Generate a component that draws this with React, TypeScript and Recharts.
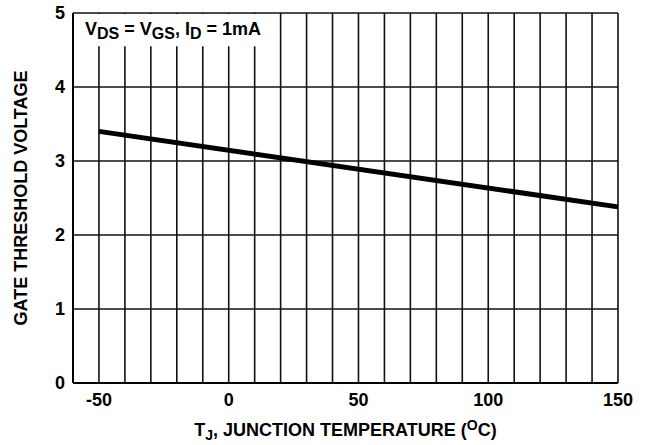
import React from "react";
import {
  LineChart,
  Line,
  XAxis,
  YAxis,
  CartesianGrid,
  ReferenceArea,
  Label,
} from "recharts";

const tempTicks = [-60, -50, -40, -30, -20, -10, 0, 10, 20, 30, 40, 50, 60, 70, 80, 90, 100, 110, 120, 130, 140, 150];
const voltTicks = [0, 1, 2, 3, 4, 5];
const labelledTemps = [-50, 0, 50, 100, 150];

const temperature = [-50, 150];
const thresholdVoltage = [3.4, 2.38];

const data = temperature.map((t, i) => ({ t, v: thresholdVoltage[i] }));

const font = "'Liberation Sans', Arial, sans-serif";

const NoteLabel = (props: any) => {
  const { viewBox } = props;
  const x = viewBox.x + 11;
  const y = viewBox.y + 21;
  return (
    <text x={x} y={y} fontFamily={font} fontWeight="bold" fontSize={18} fill="#000">
      V<tspan fontSize={16} dy={4}>DS</tspan>
      <tspan dy={-4}> = V</tspan>
      <tspan fontSize={16} dy={4}>GS</tspan>
      <tspan dy={-4}>, I</tspan>
      <tspan fontSize={16} dy={4}>D</tspan>
      <tspan dy={-4}> = 1mA</tspan>
    </text>
  );
};

const XTitle = (props: any) => {
  const { viewBox } = props;
  const cx = viewBox.x + viewBox.width / 2;
  return (
    <text x={cx} y={viewBox.y + 53} textAnchor="middle" fontFamily={font} fontWeight="bold" fontSize={18} fill="#000">
      T<tspan fontSize={14} dy={4}>J</tspan>
      <tspan dy={-4}>, JUNCTION TEMPERATURE (</tspan>
      <tspan fontSize={14} dy={-6}>O</tspan>
      <tspan dy={6}>C)</tspan>
    </text>
  );
};

const YTitle = (props: any) => {
  const { viewBox } = props;
  const cy = viewBox.y + viewBox.height / 2;
  const x = 27;
  return (
    <text
      x={x}
      y={cy}
      transform={`rotate(-90, ${x}, ${cy})`}
      textAnchor="middle"
      fontFamily={font}
      fontWeight="bold"
      fontSize={18}
      fill="#000"
    >
      GATE THRESHOLD VOLTAGE
    </text>
  );
};

const tickStyle = { fill: "#000", fontFamily: font, fontWeight: "bold", fontSize: 18 };

export default function App() {
  return (
    <div style={{ position: "absolute", left: 0, top: 0, background: "#fff" }}>
      <LineChart
        width={654}
        height={445}
        data={data}
        margin={{ top: 13, right: 36, left: 0, bottom: 0 }}
      >
        <CartesianGrid stroke="#111" strokeWidth={1.6} horizontalValues={voltTicks} verticalValues={tempTicks} />
        <ReferenceArea
          x1={-59.6}
          x2={16}
          y1={4.55}
          y2={4.985}
          fill="#fff"
          fillOpacity={1}
          stroke="none"
          label={<NoteLabel />}
        />
        <XAxis
          dataKey="t"
          type="number"
          domain={[-60, 150]}
          ticks={tempTicks}
          interval={0}
          tickFormatter={(v: number) => (labelledTemps.includes(v) ? String(v) : "")}
          tickLine={false}
          tickMargin={4}
          axisLine={{ stroke: "#000", strokeWidth: 2 }}
          tick={tickStyle}
          height={62}
        >
          <Label content={<XTitle />} />
        </XAxis>
        <YAxis
          type="number"
          domain={[0, 5]}
          ticks={voltTicks}
          interval={0}
          tickLine={false}
          axisLine={{ stroke: "#000", strokeWidth: 2 }}
          tick={tickStyle}
          width={73}
        >
          <Label content={<YTitle />} />
        </YAxis>
        <Line
          dataKey="v"
          stroke="#000"
          strokeWidth={5}
          dot={false}
          isAnimationActive={false}
        />
      </LineChart>
    </div>
  );
}
